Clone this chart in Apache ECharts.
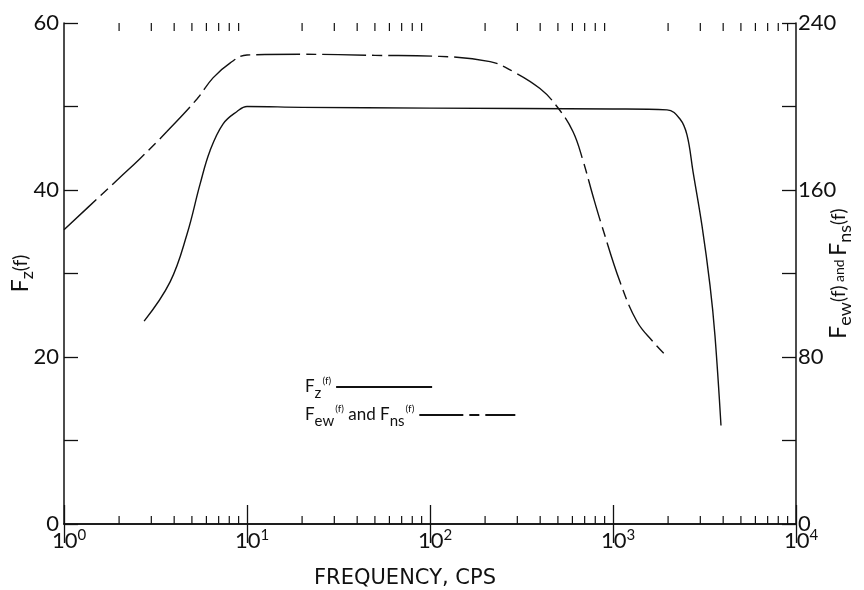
<!DOCTYPE html>
<html>
<head>
<meta charset="utf-8">
<script src="https://cdn.jsdelivr.net/npm/echarts@6/dist/echarts.min.js"></script>
<style>
  html, body { margin: 0; padding: 0; background: #fff; }
  #chart { width: 864px; height: 590px; }
</style>
</head>
<body>
<div id="chart"></div>
<script>
// F_z(f), left axis (solid)
const freqZ = [2.74, 3.8, 4.7, 5.54, 6.28, 7.39, 8.82, 10, 20, 100, 1000, 1973, 2323, 2537, 2737, 3065, 3388, 3606, 3891]
const valZ = [24.3, 29.0, 34.7, 40.7, 44.7, 47.9, 49.4, 50.0, 49.9, 49.8, 49.7, 49.6, 48.5, 46.6, 42.2, 35.7, 28.6, 22.6, 11.8]

// F_ew(f) and F_ns(f), right axis (long dashes)
const freqEW = [1, 1.57, 2.02, 2.6, 3.65, 5.33, 6.52, 8.07, 10, 20, 50, 113, 213, 284, 399, 494, 604, 686, 778, 871, 1092, 1352, 1655, 1973]
const valEW = [141, 157, 166, 175, 188, 203.6, 213.7, 220.8, 224.7, 225, 224.5, 224, 221.5, 216.8, 208.6, 200, 188, 174, 157, 142.6, 116, 97, 87.3, 80.2]

// minor log ticks (2..9 in each decade)
const minorTickFreqs = [2, 3, 4, 5, 6, 7, 8, 9, 20, 30, 40, 50, 60, 70, 80, 90,
  200, 300, 400, 500, 600, 700, 800, 900, 2000, 3000, 4000, 5000, 6000, 7000, 8000, 9000]

const leftLabels = [0, 20, 40, 60]
const rightLabels = [0, 80, 160, 240]

const FONT = 'Lato'
const INK = '#111'

const chart = echarts.init(document.getElementById('chart'))

const subRich = {
  F: { fontSize: 23, lineHeight: 30, color: INK, fontFamily: FONT },
  z: { fontSize: 18, lineHeight: 16, verticalAlign: 'bottom', color: INK, fontFamily: FONT },
  p: { fontSize: 19, lineHeight: 20, color: INK, fontFamily: FONT },
  t: { fontSize: 14, lineHeight: 20, color: INK, fontFamily: FONT }
}

const legendRich = {
  F: { fontSize: 17, lineHeight: 28, color: INK, fontFamily: FONT },
  z: { fontSize: 15, lineHeight: 14, verticalAlign: 'bottom', color: INK, fontFamily: FONT },
  p: { fontSize: 10, lineHeight: 14, verticalAlign: 'top', color: INK, fontFamily: FONT, padding: [3, 0, 0, 1] },
  t: { fontSize: 17, lineHeight: 28, color: INK, fontFamily: FONT }
}

const axisLine = { show: true, lineStyle: { color: INK, width: 1.5 } }

const legendBase = {
  left: 300,
  orient: 'vertical',
  align: 'right',
  itemWidth: 96,
  itemHeight: 14,
  itemStyle: { opacity: 0 },
  formatter: name => name === 'Fz'
    ? '{F|F}{z|z}{p|(f)}'
    : '{F|F}{z|ew}{p|(f)}{t| and F}{z|ns}{p|(f)}',
  textStyle: { rich: legendRich, color: INK }
}

const option = {
  animation: false,
  backgroundColor: '#fff',
  grid: { left: 64, right: 68, top: 23, bottom: 66, outerBoundsMode: 'none' },
  legend: [
    Object.assign({}, legendBase, { top: 368, data: ['Fz'] }),
    Object.assign({}, legendBase, { top: 396, data: ['Few'] })
  ],
  xAxis: [
    {
      type: 'log',
      logBase: 10,
      min: 1,
      max: 10000,
      name: 'FREQUENCY, CPS',
      nameLocation: 'middle',
      nameGap: 44,
      nameMoveOverlap: false,
      nameTextStyle: { fontSize: 21, color: INK, fontFamily: 'DejaVu Sans', padding: [0, 50, 0, 0] },
      axisLine: axisLine,
      axisTick: { show: true, inside: true, length: 19, lineStyle: { color: INK, width: 1.3 } },
      splitLine: { show: false },
      axisLabel: {
        margin: 4,
        padding: [0, 0, 0, 10],
        formatter: v => '{b|10}{s|' + Math.round(Math.log10(v)) + '}',
        rich: {
          b: { fontSize: 22, color: INK, fontFamily: FONT, lineHeight: 26 },
          s: { fontSize: 15, color: INK, fontFamily: FONT, lineHeight: 14, verticalAlign: 'top' }
        }
      }
    },
    {
      type: 'log',
      logBase: 10,
      min: 1,
      max: 10000,
      position: 'top',
      axisLine: axisLine,
      axisTick: { show: true, inside: true, length: 19, lineStyle: { color: INK, width: 1.3 } },
      axisLabel: { show: false },
      splitLine: { show: false }
    }
  ],
  yAxis: [
    {
      type: 'value',
      min: 0,
      max: 60,
      interval: 10,
      name: '{F|F}{z|z}{p|(f)}',
      nameLocation: 'middle',
      nameGap: 28,
      nameMoveOverlap: false,
      nameRotate: 90,
      nameTextStyle: { rich: subRich },
      axisLine: axisLine,
      axisTick: { show: true, inside: true, length: 14, lineStyle: { color: INK, width: 1.3 } },
      splitLine: { show: false },
      axisLabel: {
        margin: 5,
        fontSize: 22,
        color: INK,
        fontFamily: FONT,
        formatter: v => leftLabels.includes(v) ? String(v) : ''
      }
    },
    {
      type: 'value',
      min: 0,
      max: 240,
      interval: 40,
      position: 'right',
      name: '{F|F}{z|ew}{p|(f)}{t| and }{F|F}{z|ns}{p|(f)}',
      nameLocation: 'middle',
      nameGap: 28,
      nameMoveOverlap: false,
      nameRotate: 90,
      nameTextStyle: { rich: subRich },
      axisLine: axisLine,
      axisTick: { show: true, inside: true, length: 14, lineStyle: { color: INK, width: 1.3 } },
      splitLine: { show: false },
      axisLabel: {
        margin: 2,
        fontSize: 22,
        color: INK,
        fontFamily: FONT,
        formatter: v => rightLabels.includes(v) ? String(v) : ''
      }
    }
  ],
  series: [
    {
      name: 'Fz',
      type: 'line',
      xAxisIndex: 0,
      yAxisIndex: 0,
      smooth: 0.4,
      symbol: 'none',
      lineStyle: { color: INK, width: 1.4 },
      itemStyle: { color: INK },
      data: freqZ.map((f, i) => [f, valZ[i]])
    },
    {
      name: 'Few',
      type: 'line',
      xAxisIndex: 0,
      yAxisIndex: 1,
      smooth: 0.4,
      symbol: 'none',
      lineStyle: { color: INK, width: 1.4, type: [44, 6, 10, 6] },
      itemStyle: { color: INK },
      data: freqEW.map((f, i) => [f, valEW[i]])
    },
    {
      // minor log ticks on bottom and top axes
      type: 'custom',
      xAxisIndex: 0,
      yAxisIndex: 0,
      silent: true,
      clip: false,
      renderItem: (params, api) => {
        const b = api.coord([api.value(0), 0])
        const t = api.coord([api.value(0), 60])
        const style = { stroke: INK, lineWidth: 1.2 }
        return {
          type: 'group',
          children: [
            { type: 'line', shape: { x1: b[0], y1: b[1], x2: b[0], y2: b[1] - 8 }, style },
            { type: 'line', shape: { x1: t[0], y1: t[1], x2: t[0], y2: t[1] + 8 }, style }
          ]
        }
      },
      data: minorTickFreqs.map(f => [f, 0])
    }
  ]
}

chart.setOption(option)
</script>
</body>
</html>
